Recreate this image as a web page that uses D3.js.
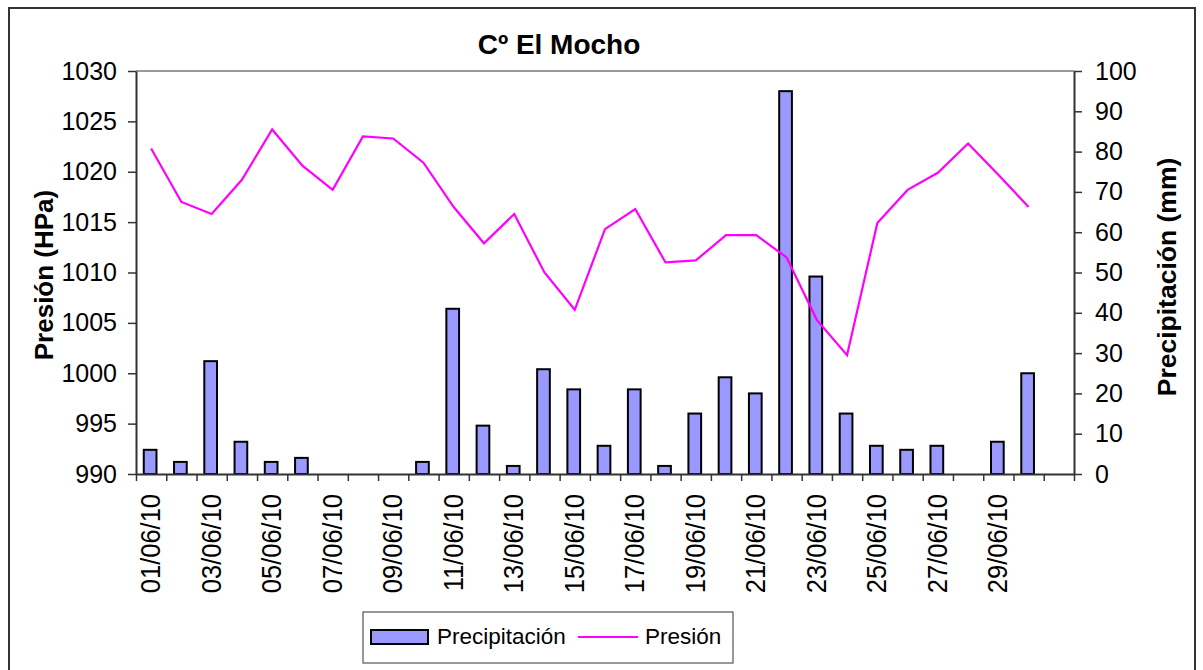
<!DOCTYPE html>
<html>
<head>
<meta charset="utf-8">
<script src="https://cdn.jsdelivr.net/npm/d3@7"></script>
<style>
  html, body { margin: 0; padding: 0; background: #fff; }
  svg { display: block; font-family: "Liberation Sans", Arial, sans-serif; }
</style>
</head>
<body>
<svg id="chart" width="1203" height="670"></svg>
<script>
// categories: one per day, plus an empty slot at the end like the original sheet
const dates = ["01/06/10", "02/06/10", "03/06/10", "04/06/10", "05/06/10", "06/06/10",
  "07/06/10", "08/06/10", "09/06/10", "10/06/10", "11/06/10", "12/06/10", "13/06/10",
  "14/06/10", "15/06/10", "16/06/10", "17/06/10", "18/06/10", "19/06/10", "20/06/10",
  "21/06/10", "22/06/10", "23/06/10", "24/06/10", "25/06/10", "26/06/10", "27/06/10",
  "28/06/10", "29/06/10", "30/06/10", ""];

// precipitación (mm), right axis
const precipitacion = [6, 3, 28, 8, 3, 4, 0, 0, 0, 3, 41, 12, 2, 26, 21, 7, 21, 2, 15, 24,
  20, 95, 49, 15, 7, 6, 7, 0, 8, 25];

// presión (HPa), left axis
const presion = [1022.3, 1017.0, 1015.8, 1019.2, 1024.2, 1020.6, 1018.2, 1023.5, 1023.3,
  1020.9, 1016.5, 1012.9, 1015.8, 1010.0, 1006.3, 1014.3, 1016.3, 1011.0, 1011.2, 1013.7,
  1013.7, 1011.5, 1005.3, 1001.8, 1014.9, 1018.2, 1019.9, 1022.8, 1019.7, 1016.5];

const presionTicks = d3.range(990, 1031, 5);
const precipTicks = d3.range(0, 101, 10);

const BAR_COLOR = "#9999ff";
const LINE_COLOR = "#ff00ff";

const plot = { left: 136, right: 1074, top: 71, bottom: 474 };

const svg = d3.select("#chart");

// outer chart frame
svg.append("rect")
  .attr("x", 9).attr("y", 8)
  .attr("width", 1186).attr("height", 670)
  .attr("fill", "#fff")
  .attr("stroke", "#333").attr("stroke-width", 2);

const x = d3.scaleBand()
  .domain(d3.range(dates.length))
  .range([plot.left, plot.right]);

const xEdges = d3.scaleLinear()
  .domain([0, dates.length])
  .range([plot.left, plot.right]);

const yL = d3.scaleLinear().domain([990, 1030]).range([plot.bottom, plot.top]);
const yR = d3.scaleLinear().domain([0, 100]).range([plot.bottom, plot.top]);

// plot area top border
svg.append("line")
  .attr("x1", plot.left).attr("x2", plot.right)
  .attr("y1", plot.top).attr("y2", plot.top)
  .attr("stroke", "#999").attr("stroke-width", 2);

// bars
const barW = x.bandwidth() * 0.42;
svg.append("g")
  .selectAll("rect")
  .data(precipitacion.map((v, i) => ({ v, i })).filter(d => d.v > 0))
  .enter()
  .append("rect")
  .attr("x", d => x(d.i) + x.bandwidth() / 2 - barW / 2 - 1)
  .attr("y", d => yR(d.v))
  .attr("width", barW)
  .attr("height", d => yR(0) - yR(d.v))
  .attr("fill", BAR_COLOR)
  .attr("stroke", "#000")
  .attr("stroke-width", 2);

// pressure line
const line = d3.line()
  .x((d, i) => x(i) + x.bandwidth() / 2)
  .y(d => yL(d));

svg.append("path")
  .attr("d", line(presion))
  .attr("fill", "none")
  .attr("stroke", LINE_COLOR)
  .attr("stroke-width", 2.2);

// axes
function styleAxis(g) {
  g.select(".domain").attr("stroke", "#333").attr("stroke-width", 2);
  g.selectAll(".tick line").attr("stroke", "#333").attr("stroke-width", 1.5);
  g.selectAll(".tick text")
    .attr("fill", "#000")
    .style("font-size", "25px");
}

svg.append("g")
  .attr("transform", `translate(${plot.left},0)`)
  .call(d3.axisLeft(yL).tickValues(presionTicks).tickFormat(d3.format("d"))
    .tickSize(8).tickPadding(11).tickSizeOuter(0))
  .call(styleAxis);

svg.append("g")
  .attr("transform", `translate(${plot.right},0)`)
  .call(d3.axisRight(yR).tickValues(precipTicks).tickFormat(d3.format("d"))
    .tickSize(8).tickPadding(13).tickSizeOuter(0))
  .call(styleAxis);

svg.append("g")
  .attr("transform", `translate(0,${plot.bottom})`)
  .call(d3.axisBottom(xEdges).tickValues(d3.range(dates.length + 1)).tickFormat("")
    .tickSize(7).tickSizeOuter(0))
  .call(styleAxis);

// date labels, every second day
svg.append("g")
  .selectAll("text")
  .data(dates.map((d, i) => ({ d, i })).filter(d => d.i % 2 === 0 && d.d))
  .enter()
  .append("text")
  .attr("transform", d => `translate(${x(d.i) + x.bandwidth() / 2 - 1},494) rotate(-90) scale(1,1.12)`)
  .attr("text-anchor", "end")
  .attr("dominant-baseline", "central")
  .style("font-size", "25.5px")
  .text(d => d.d);

// titles
svg.append("text")
  .attr("x", 559).attr("y", 54)
  .attr("text-anchor", "middle")
  .style("font-size", "28px").style("font-weight", "bold")
  .text("Cº El Mocho");

svg.append("text")
  .attr("transform", "translate(53,275) rotate(-90)")
  .attr("text-anchor", "middle")
  .style("font-size", "26px").style("font-weight", "bold")
  .text("Presión (HPa)");

svg.append("text")
  .attr("transform", "translate(1176,277) rotate(-90)")
  .attr("text-anchor", "middle")
  .style("font-size", "26.5px").style("font-weight", "bold")
  .text("Precipitación (mm)");

// legend
const legend = svg.append("g");
legend.append("rect")
  .attr("x", 363).attr("y", 612)
  .attr("width", 370).attr("height", 51)
  .attr("fill", "#fff")
  .attr("stroke", "#333").attr("stroke-width", 1);

legend.append("rect")
  .attr("x", 371).attr("y", 630)
  .attr("width", 57).attr("height", 14)
  .attr("fill", BAR_COLOR)
  .attr("stroke", "#000").attr("stroke-width", 2);

legend.append("text")
  .attr("x", 437).attr("y", 644)
  .style("font-size", "22.5px")
  .text("Precipitación");

legend.append("line")
  .attr("x1", 578).attr("x2", 638)
  .attr("y1", 637).attr("y2", 637)
  .attr("stroke", LINE_COLOR).attr("stroke-width", 2);

legend.append("text")
  .attr("x", 645).attr("y", 644)
  .style("font-size", "22.5px")
  .text("Presión");
</script>
</body>
</html>
